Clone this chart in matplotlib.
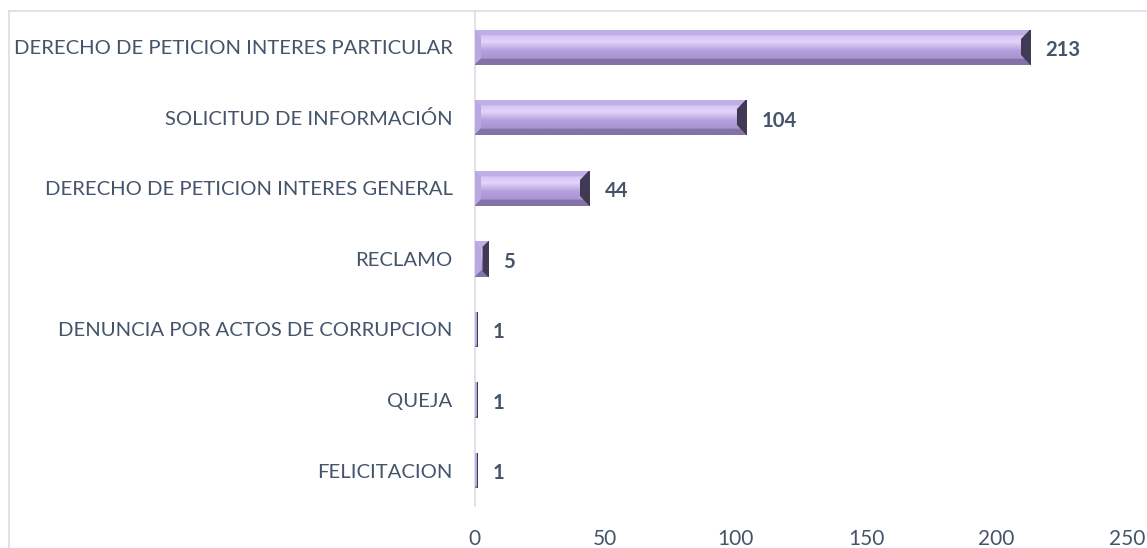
import matplotlib.pyplot as plt
import numpy as np
from matplotlib.lines import Line2D

# categories (top to bottom) and values
categorias = ['DERECHO DE PETICION INTERES PARTICULAR', 'SOLICITUD DE INFORMACIÓN',
              'DERECHO DE PETICION INTERES GENERAL', 'RECLAMO',
              'DENUNCIA POR ACTOS DE CORRUPCION', 'QUEJA', 'FELICITACION']
valores = [213, 104, 44, 5, 1, 1, 1]
xticks = [0, 50, 100, 150, 200, 250]

texto = '#44546A'
plt.rcParams['font.family'] = ['Lato', 'DejaVu Sans']

fig = plt.figure(figsize=(11.47, 5.48), dpi=100)
ax = fig.add_axes([0.414, 0.077, 0.5685, 0.901])

y = np.arange(len(categorias))
alto = 0.5
bars = ax.barh(y, valores, height=alto, color='#B49FDC', edgecolor='none', zorder=2)

ax.set_xlim(0, 250)
ax.set_ylim(len(categorias) - 0.5, -0.5)
ax.set_yticks(y)
ax.set_yticklabels(categorias)
ax.set_xticks(xticks)
ax.tick_params(axis='both', length=0, colors=texto, labelsize=14.6)
ax.tick_params(axis='y', pad=16)
ax.tick_params(axis='x', pad=17, labelsize=15)
for s in ['top', 'right', 'bottom']:
    ax.spines[s].set_visible(False)
ax.spines['left'].set_color('#D9DDE3')
ax.spines['left'].set_linewidth(1.2)

# bevel shading painted inside each bar
px_por_unidad = 652 / 250.0
bar_px = 34
b = 6


def bevel(w_px, h_px):
    h_px = max(h_px, 2)
    w_px = max(w_px, 2)
    img = np.zeros((h_px, w_px, 3))
    ii, jj = np.mgrid[0:h_px, 0:w_px]
    dt = ii
    db = h_px - 1 - ii
    dl = jj
    dr = w_px - 1 - jj
    # central face: vertical gradient with a light band
    t = ii / (h_px - 1)
    top = np.array([200, 182, 236])
    band = np.array([226, 212, 250])
    mid = np.array([180, 160, 220])
    low = np.array([160, 140, 200])
    c = np.where((t < 0.35)[..., None],
                 top + (band - top) * (t / 0.35)[..., None],
                 np.where((t < 0.6)[..., None],
                          band + (mid - band) * ((t - 0.35) / 0.25)[..., None],
                          mid + (low - mid) * ((t - 0.6) / 0.4)[..., None]))
    img[:] = c
    bb = min(10, w_px // 2)
    m = np.minimum(np.minimum(dt, db), np.minimum(dl, dr))
    top_f = (dt == m) & (dt < b)
    bot_f = (db == m) & (db < b)
    left_f = (dl == m) & (dl < b) & ~top_f & ~bot_f
    right_f = (dr <= np.minimum(dt, db)) & (dr < bb)
    img[top_f] = [192, 174, 230]
    img[bot_f] = [132, 114, 166]
    img[left_f] = [186, 168, 226]
    img[right_f] = [64, 58, 84]
    return img / 255.0


for rect, v in zip(bars, valores):
    w_px = int(round(v * px_por_unidad))
    img = bevel(w_px, bar_px)
    x0 = rect.get_x()
    y0 = rect.get_y()
    im = ax.imshow(img, extent=(x0, x0 + rect.get_width(), y0 + rect.get_height(), y0),
                   aspect='auto', interpolation='bilinear', zorder=3)
    im.set_clip_path(rect)
    ax.annotate(str(v), (v, rect.get_y() + rect.get_height() / 2), xytext=(11, -2),
                textcoords='offset points', ha='left', va='center',
                fontsize=14.6, fontweight='bold', color=texto)

ax.set_aspect('auto')
ax.set_xlim(0, 250)
ax.set_ylim(len(categorias) - 0.5, -0.5)

# chart area border (top and left visible)
fig.add_artist(Line2D([9 / 1147, 1], [1 - 11 / 548, 1 - 11 / 548], color='#D9DDE3', lw=1.2))
fig.add_artist(Line2D([9 / 1147, 9 / 1147], [0, 1 - 11 / 548], color='#D9DDE3', lw=1.2))

fig.savefig('out.png', dpi=100)
